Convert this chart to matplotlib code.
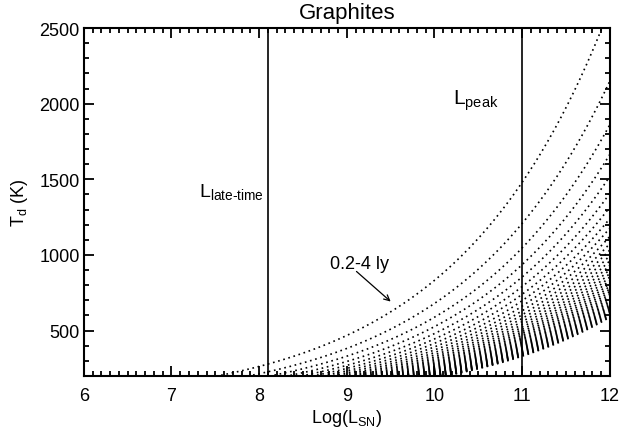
import numpy as np
import matplotlib.pyplot as plt
from matplotlib.ticker import MultipleLocator

plt.rcParams['font.family'] = ['Liberation Sans', 'DejaVu Sans']
plt.rcParams['mathtext.fontset'] = 'custom'
plt.rcParams['mathtext.rm'] = 'Liberation Sans'
plt.rcParams['mathtext.it'] = 'Liberation Sans:italic'

# distances of the dust shells (ly), one dotted curve each
distances = [round(0.2 + 0.1 * i, 1) for i in range(39)]
# 0.2 ly curve is ~1480 K at Log(L)=11, T ~ L^(1/4) r^(-1/2)
t_ref = 1480.0
logl_ref = 11.0
r_ref = 0.2
logl = np.linspace(6, 12, 400)

late_time = 8.1
peak = 11.0

fig = plt.figure(figsize=(6.21, 4.31), dpi=100)
ax = fig.add_axes([0.135, 0.1253, 0.847, 0.8074])

for r in distances:
    td = t_ref * 10 ** ((logl - logl_ref) / 4.0) * np.sqrt(r_ref / r)
    ax.plot(logl, td, color='black', lw=1.2, linestyle=(0, (1, 2.2)))

ax.axvline(late_time, color='black', lw=1.2)
ax.axvline(peak, color='black', lw=1.2)

ax.set_xlim(6, 12)
ax.set_ylim(200, 2500)
ax.xaxis.set_major_locator(MultipleLocator(1))
ax.xaxis.set_minor_locator(MultipleLocator(0.1))
ax.yaxis.set_major_locator(MultipleLocator(500))
ax.yaxis.set_minor_locator(MultipleLocator(100))
ax.tick_params(which='both', direction='in', top=True, right=True, labelsize=13, width=1.3)
ax.tick_params(which='major', length=7)
ax.tick_params(which='minor', length=3.5)
ax.tick_params(axis='x', pad=8)
ax.tick_params(axis='y', pad=3)
for s in ax.spines.values():
    s.set_linewidth(1.5)

ax.set_title('Graphites', fontsize=16, pad=7)
ax.set_xlabel(r'Log(L$_{\mathrm{SN}}$)', fontsize=13, labelpad=2)
ax.set_ylabel(r'T$_{\mathrm{d}}$ (K)', fontsize=13, labelpad=7)

ax.text(7.31, 1387, r'L$_{\mathrm{late\text{-}time}}$', fontsize=14, va='baseline', ha='left')
ax.text(10.21, 2003, r'L$_{\mathrm{peak}}$', fontsize=15, va='baseline', ha='left')
ax.text(9.14, 944, '0.2-4 ly', fontsize=13, ha='center', va='center')
ax.annotate('', xy=(9.50, 692), xytext=(9.11, 891),
            arrowprops=dict(arrowstyle='->', color='black', lw=0.9, shrinkA=0, shrinkB=0))

fig.savefig('out.png', dpi=100)
